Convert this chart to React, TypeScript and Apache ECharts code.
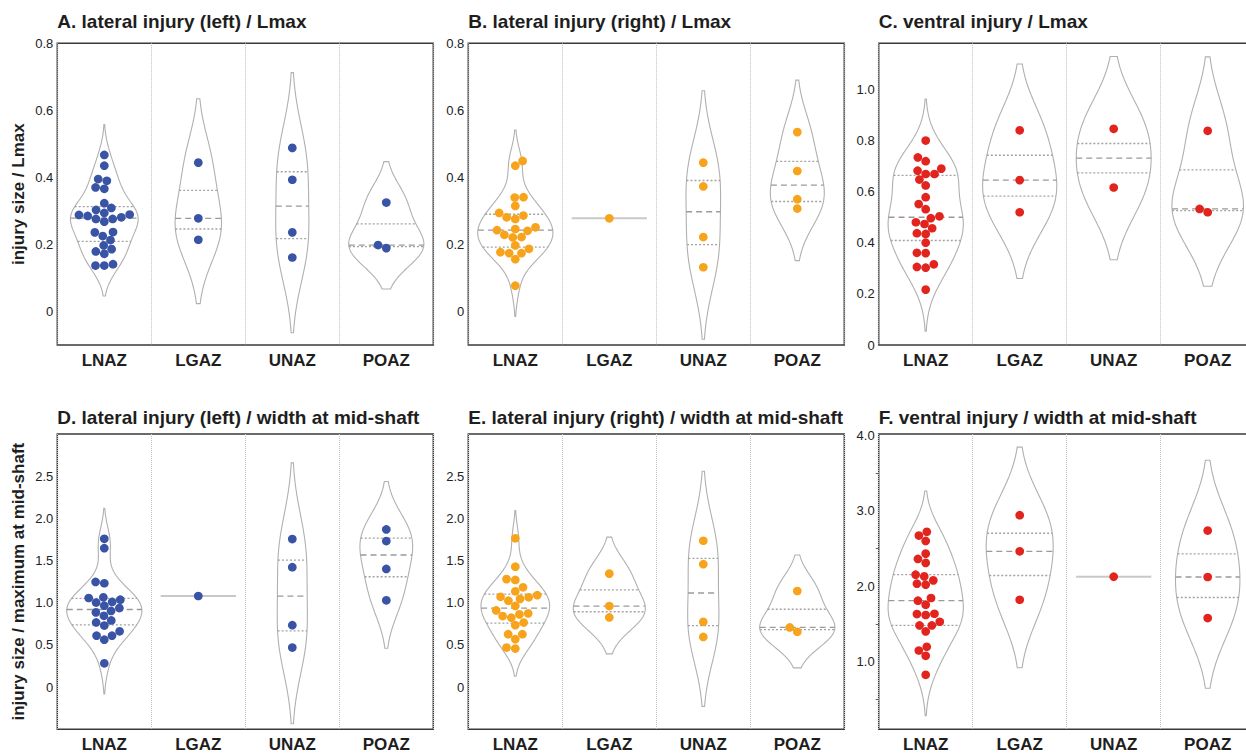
import React, { useEffect, useRef } from "react";
import * as echarts from "echarts";

const categories = ["LNAZ", "LGAZ", "UNAZ", "POAZ"];

// Panel A: lateral injury (left) / Lmax
const aLNAZ = [0.467, 0.435, 0.395, 0.39, 0.37, 0.366, 0.323, 0.309, 0.303, 0.294, 0.288, 0.285, 0.276, 0.268, 0.276, 0.281, 0.289, 0.237, 0.236, 0.225, 0.213, 0.197, 0.179, 0.186, 0.172, 0.137, 0.137, 0.141];
const aLGAZ = [0.444, 0.278, 0.214];
const aUNAZ = [0.488, 0.393, 0.236, 0.161];
const aPOAZ = [0.325, 0.198, 0.189];

// Panel B: lateral injury (right) / Lmax
const bLNAZ = [0.449, 0.435, 0.341, 0.34, 0.315, 0.294, 0.281, 0.276, 0.286, 0.2425, 0.2286, 0.246, 0.221, 0.222, 0.2405, 0.251, 0.197, 0.187, 0.174, 0.156, 0.174, 0.177, 0.077];
const bLGAZ = [0.278];
const bUNAZ = [0.444, 0.373, 0.222, 0.132];
const bPOAZ = [0.535, 0.419, 0.335, 0.307];

// Panel C: ventral injury / Lmax
const cLNAZ = [0.801, 0.735, 0.72, 0.683, 0.67, 0.67, 0.691, 0.648, 0.625, 0.579, 0.552, 0.532, 0.504, 0.497, 0.481, 0.474, 0.4575, 0.438, 0.435, 0.401, 0.361, 0.36, 0.306, 0.303, 0.316, 0.217];
const cLGAZ = [0.841, 0.646, 0.52];
const cUNAZ = [0.847, 0.617];
const cPOAZ = [0.839, 0.533, 0.52];

// Panel D: lateral injury (left) / width at mid-shaft
const dLNAZ = [1.758, 1.647, 1.247, 1.231, 1.056, 1.064, 1.036, 1.002, 1.01, 0.937, 0.965, 0.903, 0.886, 0.845, 0.79, 0.767, 0.729, 0.661, 0.61, 0.61, 0.562, 0.282];
const dLGAZ = [1.08];
const dUNAZ = [1.755, 1.421, 0.734, 0.469];
const dPOAZ = [1.869, 1.731, 1.401, 1.029];

// Panel E: lateral injury (right) / width at mid-shaft
const eLNAZ = [1.764, 1.427, 1.27, 1.28, 1.183, 1.135, 1.09, 1.064, 1.046, 1.024, 1.07, 0.962, 0.909, 0.874, 0.862, 0.842, 0.823, 0.765, 0.734, 0.627, 0.627, 0.568, 0.469, 0.457];
const eLGAZ = [1.345, 0.961, 0.826];
const eUNAZ = [1.735, 1.457, 0.774, 0.595];
const ePOAZ = [1.139, 0.707, 0.655];

// Panel F: ventral injury / width at mid-shaft
const fLNAZ = [2.721, 2.672, 2.601, 2.432, 2.362, 2.309, 2.153, 2.13, 2.077, 2.033, 2.02, 1.843, 1.807, 1.754, 1.634, 1.617, 1.63, 1.528, 1.479, 1.479, 1.399, 1.195, 1.146, 1.076, 0.823];
const fLGAZ = [2.942, 2.463, 1.82];
const fUNAZ = [2.126];
const fPOAZ = [2.738, 2.122, 1.577];

const panelTitles = [
  "A. lateral injury (left) / Lmax",
  "B. lateral injury (right) / Lmax",
  "C. ventral injury / Lmax",
  "D. lateral injury (left) / width at mid-shaft",
  "E. lateral injury (right) / width at mid-shaft",
  "F. ventral injury / width at mid-shaft",
];
const yAxisNames = ["injury size / Lmax", "", "", "injury size / maximum at mid-shaft", "", ""];

const labelsLmax = [0, 0.2, 0.4, 0.6, 0.8];
const labelsVentralLmax = [0, 0.2, 0.4, 0.6, 0.8, 1.0];
const labelsWidth = [0, 0.5, 1.0, 1.5, 2.0, 2.5];
const labelsVentralWidth = [1.0, 2.0, 3.0, 4.0];
const minorVentralWidth = [0.5, 1.5, 2.5, 3.5];

const yExtents = [
  [-0.1, 0.8],
  [-0.1, 0.8],
  [0, 1.182],
  [-0.5, 3.0],
  [-0.5, 3.0],
  [0.1, 4.02],
];

const BLUE = "#3953a5";
const ORANGE = "#f8a31c";
const RED = "#e2241f";

const panelGroups = [
  [aLNAZ, aLGAZ, aUNAZ, aPOAZ],
  [bLNAZ, bLGAZ, bUNAZ, bPOAZ],
  [cLNAZ, cLGAZ, cUNAZ, cPOAZ],
  [dLNAZ, dLGAZ, dUNAZ, dPOAZ],
  [eLNAZ, eLGAZ, eUNAZ, ePOAZ],
  [fLNAZ, fLGAZ, fUNAZ, fPOAZ],
];
const panelColors = [BLUE, ORANGE, RED, BLUE, ORANGE, RED];
const panelLabels = [labelsLmax, labelsLmax, labelsVentralLmax, labelsWidth, labelsWidth, labelsVentralWidth];
const panelMinor: (number[] | null)[] = [null, null, null, null, null, minorVentralWidth];

// layout (pixels)
const gridRects = [
  { left: 57.3, top: 43.3, width: 376, height: 301.7 },
  { left: 468.3, top: 43.3, width: 376, height: 301.7 },
  { left: 878.7, top: 43.3, width: 376, height: 301.7 },
  { left: 57.3, top: 434, width: 376, height: 295.3 },
  { left: 468.3, top: 434, width: 376, height: 295.3 },
  { left: 878.7, top: 434, width: 376, height: 295.3 },
];
const titleY = [21, 21, 21, 417, 417, 417];

const FONT = '"Liberation Sans", Arial, Helvetica, sans-serif';
const DOT_R = 4.35;
const COLLIDE_R = 4.2;

type KDE = { support: number[]; density: number[] } | null;

function kde(values: number[]): KDE {
  const n = values.length;
  if (n < 2) return null;
  const mean = values.reduce((s, v) => s + v, 0) / n;
  const sd = Math.sqrt(values.reduce((s, v) => s + (v - mean) * (v - mean), 0) / (n - 1));
  if (sd === 0) return null;
  const bw = Math.pow(n, -0.2) * sd;
  const lo = Math.min(...values) - 2 * bw;
  const hi = Math.max(...values) + 2 * bw;
  const grid = 100;
  const support: number[] = [];
  const density: number[] = [];
  for (let i = 0; i < grid; i++) {
    const y = lo + ((hi - lo) * i) / (grid - 1);
    let s = 0;
    for (const v of values) {
      const z = (y - v) / bw;
      s += Math.exp(-0.5 * z * z);
    }
    support.push(y);
    density.push(s / (n * bw * Math.sqrt(2 * Math.PI)));
  }
  return { support, density };
}

function percentile(sorted: number[], p: number) {
  const idx = p * (sorted.length - 1);
  const lo = Math.floor(idx);
  const hi = Math.ceil(idx);
  return sorted[lo] + (sorted[hi] - sorted[lo]) * (idx - lo);
}

function interp(x: number, xs: number[], ys: number[]) {
  if (x <= xs[0]) return ys[0];
  for (let i = 1; i < xs.length; i++) {
    if (x <= xs[i]) {
      const t = (x - xs[i - 1]) / (xs[i] - xs[i - 1]);
      return ys[i - 1] + t * (ys[i] - ys[i - 1]);
    }
  }
  return ys[ys.length - 1];
}

// seaborn-style beeswarm in pixel space
function beeswarm(cx: number, pys: number[], r: number): number[][] {
  const pts = pys.map((py) => ({ x: cx, y: -py }));
  pts.sort((a, b) => a.y - b.y);
  const swarm: { x: number; y: number }[] = [];
  const sep2 = 4 * r * r;
  for (const p of pts) {
    if (swarm.length === 0) {
      swarm.push({ x: cx, y: p.y });
      continue;
    }
    const neighbors: { x: number; y: number }[] = [];
    for (let j = swarm.length - 1; j >= 0; j--) {
      if (p.y - swarm[j].y < 2 * r) neighbors.push(swarm[j]);
      else break;
    }
    const cands: { x: number; y: number }[] = [{ x: cx, y: p.y }];
    let leftFirst = true;
    for (const nb of neighbors) {
      const dy = p.y - nb.y;
      const dx = Math.sqrt(Math.max(sep2 - dy * dy, 0)) * 1.05;
      const cl = { x: nb.x - dx, y: p.y };
      const cr = { x: nb.x + dx, y: p.y };
      if (leftFirst) cands.push(cl, cr);
      else cands.push(cr, cl);
      leftFirst = !leftFirst;
    }
    const ordered = cands
      .map((c, i) => ({ c, i, o: Math.abs(c.x - cx) }))
      .sort((a, b) => a.o - b.o || a.i - b.i)
      .map((o) => o.c);
    let chosen = ordered[0];
    if (neighbors.length) {
      let found: { x: number; y: number } | null = null;
      for (const c of ordered) {
        if (neighbors.every((nb) => (nb.x - c.x) ** 2 + (nb.y - c.y) ** 2 >= sep2)) {
          found = c;
          break;
        }
      }
      chosen = found || ordered[ordered.length - 1];
    }
    swarm.push(chosen);
  }
  return swarm.map((s) => [s.x, -s.y]);
}

function fmt(v: number) {
  if (Math.abs(v) < 1e-9) return "0";
  return v.toFixed(1);
}

function buildOption() {
  const grids: any[] = [];
  const xAxes: any[] = [];
  const yAxes: any[] = [];
  const series: any[] = [];
  const graphics: any[] = [];

  panelGroups.forEach((groups, pi) => {
    const rect = gridRects[pi];
    grids.push({
      ...rect,
      show: true,
      borderColor: "#3a3a3a",
      borderWidth: 1.5,
      backgroundColor: "transparent",
      containLabel: false,
      outerBoundsMode: "none",
    });
    xAxes.push({
      type: "category",
      gridIndex: pi,
      data: categories,
      boundaryGap: true,
      axisLine: { show: false },
      axisTick: { show: false },
      axisLabel: {
        interval: 0,
        margin: 7,
        fontSize: 17,
        fontWeight: "bold",
        color: "#1e1e1e",
        fontFamily: FONT,
      },
      splitLine: {
        show: true,
        interval: 0,
        lineStyle: { color: "#bdbdbd", type: "dotted", width: 1 },
      },
    });
    const minor = panelMinor[pi];
    const labels = panelLabels[pi];
    yAxes.push({
      type: "value",
      gridIndex: pi,
      min: yExtents[pi][0],
      max: yExtents[pi][1],
      name: yAxisNames[pi],
      nameLocation: "middle",
      nameRotate: 90,
      nameGap: 30,
      nameTextStyle: { fontSize: 17, fontWeight: "bold", color: "#1e1e1e", fontFamily: FONT },
      axisLine: { show: false },
      splitLine: { show: false },
      axisTick: minor
        ? { show: true, customValues: minor, length: 3, lineStyle: { color: "#666", width: 1 } }
        : { show: false },
      axisLabel: {
        customValues: labels,
        formatter: (v: number) => fmt(v),
        margin: 4,
        fontSize: 13,
        color: "#222",
        fontFamily: FONT,
      },
    });

    const kdes = groups.map((g) => kde(g));
    let maxD = 0;
    kdes.forEach((k) => {
      if (k) maxD = Math.max(maxD, ...k.density);
    });
    const color = panelColors[pi];

    series.push({
      type: "custom",
      xAxisIndex: pi,
      yAxisIndex: pi,
      clip: false,
      silent: true,
      encode: { x: 0, y: 1 },
      data: categories.map((_, i) => [i, groups[i][0]]),
      renderItem: (params: any, api: any) => {
        const ci = api.value(0) as number;
        const vals = groups[ci];
        const k = kdes[ci];
        const band = api.size([1, 0])[0];
        const half = band * 0.4;
        const cx = api.coord([ci, vals[0]])[0];
        const children: any[] = [];
        if (!k) {
          const y = api.coord([ci, vals[0]])[1];
          children.push({
            type: "line",
            shape: { x1: cx - half, y1: y, x2: cx + half, y2: y },
            style: { stroke: "#c8c8c8", lineWidth: 2 },
          });
        } else {
          const right: number[][] = [];
          const left: number[][] = [];
          for (let i = 0; i < k.support.length; i++) {
            const y = api.coord([ci, k.support[i]])[1];
            const w = (k.density[i] / maxD) * half;
            right.push([cx + w, y]);
            left.push([cx - w, y]);
          }
          const pts = right.concat(left.reverse());
          children.push({
            type: "polygon",
            shape: { points: pts },
            style: { fill: "none", stroke: "#b0b0b0", lineWidth: 1.1 },
          });
          const sorted = [...vals].sort((a, b) => a - b);
          [0.25, 0.5, 0.75].forEach((p) => {
            const q = percentile(sorted, p);
            const w = (interp(q, k.support, k.density) / maxD) * half;
            const y = api.coord([ci, q])[1];
            children.push({
              type: "line",
              shape: { x1: cx - w, y1: y, x2: cx + w, y2: y },
              style: {
                stroke: p === 0.5 ? "#9a9a9a" : "#a2a2a2",
                lineWidth: 1.3,
                lineDash: p === 0.5 ? [6, 4] : [2, 2],
              },
            });
          });
        }
        const ys = vals.map((v) => api.coord([ci, v])[1]);
        const pos = beeswarm(cx, ys, COLLIDE_R);
        pos.forEach(([x, y]) => {
          children.push({
            type: "circle",
            shape: { cx: x, cy: y, r: DOT_R },
            style: { fill: color },
          });
        });
        return { type: "group", children };
      },
    });

    graphics.push({
      type: "text",
      x: rect.left,
      y: titleY[pi],
      style: {
        text: panelTitles[pi],
        font: `bold 19px ${FONT}`,
        fill: "#1e1e1e",
        align: "left",
        verticalAlign: "middle",
        textAlign: "left",
        textVerticalAlign: "middle",
      },
    });
  });

  return {
    animation: false,
    backgroundColor: "#ffffff",
    textStyle: { fontFamily: FONT },
    grid: grids,
    xAxis: xAxes,
    yAxis: yAxes,
    series,
    graphic: graphics,
  };
}

export default function App() {
  const ref = useRef<HTMLDivElement>(null);
  useEffect(() => {
    if (!ref.current) return;
    const chart = echarts.init(ref.current, undefined, { renderer: "svg" });
    chart.setOption(buildOption() as any);
    return () => chart.dispose();
  }, []);
  return (
    <div
      ref={ref}
      style={{ position: "absolute", left: 0, top: 0, width: 1246, height: 753, background: "#fff" }}
    />
  );
}
